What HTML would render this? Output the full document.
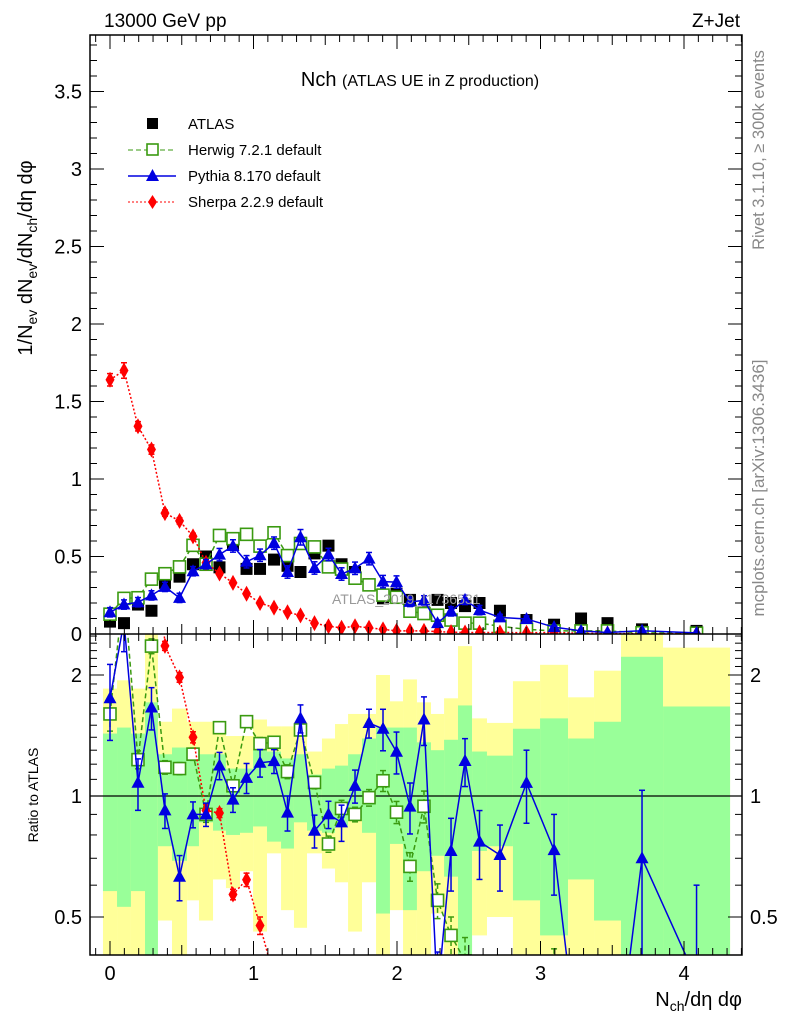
<!DOCTYPE html>
<html><head><meta charset="utf-8">
<style>
html,body{margin:0;padding:0;background:#fff;width:786px;height:1024px;overflow:hidden;}
svg{display:block;font-family:"Liberation Sans",sans-serif;}
</style></head>
<body>
<svg id="chart" width="786" height="1024" viewBox="0 0 786 1024" xmlns="http://www.w3.org/2000/svg">
<defs>
<clipPath id="clipMain"><rect x="90" y="35" width="652" height="599"/></clipPath>
<clipPath id="clipRatio"><rect x="90" y="634" width="652" height="321"/></clipPath>
</defs>
<g id="bands" clip-path="url(#clipRatio)"></g>
<g id="ratioLines" clip-path="url(#clipRatio)"></g>
<g id="mainMarks" clip-path="url(#clipMain)"></g>
<text x="332" y="604" font-size="14" fill="#999">ATLAS_2019_I1736531</text>
<g id="axes"></g>
<text x="104" y="27" font-size="19">13000 GeV pp</text>
<text x="740" y="27" font-size="19" text-anchor="end">Z+Jet</text>
<text x="420" y="86" font-size="20" text-anchor="middle">Nch <tspan font-size="16">(ATLAS UE in Z production)</tspan></text>
<g font-size="15">
 <g><rect x="147" y="118" width="11" height="11" fill="#000"/><text x="188" y="129">ATLAS</text></g>
 <g><line x1="128" y1="150" x2="176" y2="150" stroke="#3a9a10" stroke-dasharray="5,3"/><rect x="147" y="144" width="11" height="11" fill="#fff" stroke="#3a9a10" stroke-width="1.6"/><text x="188" y="155">Herwig 7.2.1 default</text></g>
 <g><line x1="128" y1="176" x2="176" y2="176" stroke="#0000e0" stroke-width="1.5"/><polygon points="146,181 159,181 152.5,169" fill="#0000e0"/><text x="188" y="181">Pythia 8.170 default</text></g>
 <g><line x1="128" y1="202" x2="176" y2="202" stroke="#f00" stroke-dasharray="2,2"/><polygon points="152.5,195 157,202 152.5,209 148,202" fill="#f00"/><text x="188" y="207">Sherpa 2.2.9 default</text></g>
</g>
<text transform="translate(32,258) rotate(-90)" font-size="20" text-anchor="middle">1/N<tspan font-size="14" dy="5">ev</tspan><tspan dy="-5"> dN</tspan><tspan font-size="14" dy="5">ev</tspan><tspan dy="-5">/dN</tspan><tspan font-size="14" dy="5">ch</tspan><tspan dy="-5">/dη dφ</tspan></text>
<text transform="translate(38,795) rotate(-90)" font-size="14" text-anchor="middle">Ratio to ATLAS</text>
<text x="742" y="1006" font-size="20" text-anchor="end">N<tspan font-size="14" dy="5">ch</tspan><tspan dy="-5">/dη dφ</tspan></text>
<text transform="translate(764,150) rotate(-90)" font-size="16.5" fill="#888" text-anchor="middle">Rivet 3.1.10, ≥ 300k events</text>
<text transform="translate(764,488) rotate(-90)" font-size="17" fill="#888" text-anchor="middle">mcplots.cern.ch [arXiv:1306.3436]</text>
</svg>
<script>
const binEdges=[-0.049,0.049,0.146,0.244,0.334,0.432,0.537,0.620,0.718,0.808,0.906,0.997,1.094,1.192,1.282,1.373,1.477,1.568,1.659,1.756,1.854,1.951,2.042,2.139,2.237,2.328,2.425,2.523,2.627,2.808,2.997,3.192,3.373,3.561,3.854,4.321];
const atlasVals=[.08,.07,.19,.15,.33,.37,.45,.50,.43,.58,.42,.42,.48,.44,.40,.52,.57,.45,.40,.32,.23,.26,.22,.14,.22,.20,.18,.20,.15,.09,.06,.10,.07,.03,.02];
const herwigVals=[.128,.23,.234,.354,.389,.433,.572,.45,.636,.615,.643,.567,.653,.506,.584,.562,.433,.419,.36,.317,.251,.237,.147,.132,.121,.09,.07,.07,.05,.03,.02,.02,.02,.008,.005];
const pythiaVals=[.14,.19,.205,.249,.304,.233,.405,.45,.512,.568,.466,.508,.586,.40,.624,.426,.513,.387,.424,.486,.338,.335,.207,.217,.07,.146,.22,.154,.107,.097,.044,.02,.01,.021,.007];
const sherpaVals=[1.64,1.70,1.34,1.19,0.78,0.73,0.63,0.46,0.39,0.33,0.26,0.20,0.17,0.14,0.12,0.07,0.05,0.04,0.05,0.04,0.03,0.02,0.02,0.02,0.015,0.012,0.01,0.01,0.01,0.008,0.01,0.005,0.003,0.002,0.001];
const pythiaErr=[.03,.03,.03,.03,.03,.03,.03,.03,.04,.04,.04,.04,.04,.04,.05,.04,.04,.04,.04,.04,.04,.04,.03,.03,.02,.03,.03,.03,.02,.02,.01,.01,.01,.01,.005];
const herwigErr=[.012,.012,.012,.015,.015,.015,.02,.02,.02,.02,.02,.02,.02,.02,.02,.02,.02,.02,.015,.015,.015,.015,.012,.012,.012,.01,.01,.01,.008,.006,.005,.005,.005,.003,.002];
const sherpaErr=[.04,.05,.03,.03,.02,.02,.02,.015,.01,.01,.01,.01,.01,.01,.01,.005,.005,.005,.005,.005,.005,.005,.005,.005,.005,.005,.005,.005,.005,.005,.005,.005,.005,.005,.005];
const greenTop=[1.43,1.48,1.43,1.71,1.27,1.32,1.31,1.27,1.27,1.17,1.17,1.31,1.29,1.24,1.27,1.13,1.17,1.19,1.27,1.39,1.48,1.48,1.48,1.36,1.30,1.38,1.68,1.29,1.26,1.47,1.56,1.39,1.53,2.22,1.67];
const greenBot=[0.58,0.53,0.58,0.3,0.75,0.69,0.75,0.86,0.82,0.80,0.81,0.84,0.77,0.74,0.86,0.82,0.81,0.84,0.88,0.81,0.51,0.76,0.52,0.65,0.71,0.63,0.3,0.73,0.75,0.55,0.45,0.62,0.49,0.3,0.3];
const yellowTop=[1.85,1.94,1.85,3,1.53,1.65,1.53,1.53,1.53,1.41,1.41,1.55,1.49,1.49,1.53,1.29,1.39,1.51,1.60,1.60,2.0,1.72,1.95,1.71,1.60,1.75,2.36,1.56,1.52,1.93,2.12,1.76,2.05,3,2.34];
const yellowBot=[0.3,0.3,0.3,0.3,0.49,0.3,0.55,0.49,0.62,0.59,0.65,0.46,0.72,0.52,0.47,0.72,0.66,0.61,0.46,0.61,0.3,0.52,0.3,0.3,0.51,0.3,0.3,0.45,0.50,0.3,0.3,0.3,0.3,0.3,0.3];
const xTicks=[0,1,2,3,4];
const yTicks=[0,0.5,1,1.5,2,2.5,3,3.5];
const yTickLabels=["0","0.5","1","1.5","2","2.5","3","3.5"];
const rTicks=[0.5,1,2];
const rTickLabels=["0.5","1","2"];

const NS="http://www.w3.org/2000/svg";
const L=90,R=742,T=35,MB=634,RB=955;
function X(v){return 110+v*143.5;}
function Y(v){return 634-v*155;}
function RY(r){return 796-Math.log2(r)*121;}
function mk(tag,attrs,parent){const e=document.createElementNS(NS,tag);for(const k in attrs)e.setAttribute(k,attrs[k]);parent.appendChild(e);return e;}
const centers=binEdges.slice(0,-1).map((e,i)=>(e+binEdges[i+1])/2);

const gb=document.getElementById('bands');
for(let i=0;i<centers.length;i++){
  const x1=X(binEdges[i]),x2=X(binEdges[i+1]);
  const yb=mk('rect',{x:x1,y:RY(yellowTop[i]),width:x2-x1,height:RY(yellowBot[i])-RY(yellowTop[i]),fill:'#ffff99'},gb);
  
  
  const gr=mk('rect',{x:x1,y:RY(greenTop[i]),width:x2-x1,height:RY(greenBot[i])-RY(greenTop[i]),fill:'#99ff99'},gb);
  
  
}
mk('line',{x1:L,x2:R,y1:RY(1),y2:RY(1),stroke:'#000','stroke-width':1.2},gb);

function drawSeries(g,vals,errs,yfun,color,dash,marker,name,ratio){
  const pts=[];
  for(let i=0;i<vals.length;i++){
    let v=vals[i],e=errs?errs[i]:0;
    if(ratio){v=vals[i]/atlasVals[i];e=e/atlasVals[i];}
    pts.push([X(centers[i]),yfun(Math.max(v,1e-4)),v,e]);
  }
  const pl=mk('polyline',{points:pts.map(p=>p[0]+','+p[1]).join(' '),fill:'none',stroke:color,'stroke-width':1.5,'stroke-dasharray':dash},g);
  
  
  pts.forEach(p=>{
    const [x,y,v,e]=p;
    if(e>0){
      const y1=yfun(Math.max(v+e,1e-4)),y2=yfun(Math.max(v-e,1e-4));
      mk('line',{x1:x,x2:x,y1:y1,y2:y2,stroke:color,'stroke-width':1.5,'stroke-dasharray':dash},g);
      mk('line',{x1:x-3,x2:x+3,y1:y1,y2:y1,stroke:color,'stroke-width':1.5},g);
      mk('line',{x1:x-3,x2:x+3,y1:y2,y2:y2,stroke:color,'stroke-width':1.5},g);
    }
    let m;
    if(marker==='square') m=mk('rect',{x:x-6,y:y-6,width:12,height:12,fill:'#fff',stroke:color,'stroke-width':1.6},g);
    else if(marker==='tri') m=mk('polygon',{points:`${x-6.5},${y+5} ${x+6.5},${y+5} ${x},${y-7}`,fill:color},g);
    else m=mk('polygon',{points:`${x},${y-8} ${x+4.5},${y} ${x},${y+8} ${x-4.5},${y}`,fill:color},g);
    
    
  });
}
const gm=document.getElementById('mainMarks');
atlasVals.forEach((v,i)=>{
  const r=mk('rect',{x:X(centers[i])-6,y:Y(v)-6,width:12,height:12,fill:'#000'},gm);
  
  
});
drawSeries(gm,herwigVals,herwigErr,Y,'#3a9a10','5,3','square','herwig',false);
drawSeries(gm,sherpaVals,sherpaErr,Y,'#f00','2,2','diamond','sherpa',false);
drawSeries(gm,pythiaVals,pythiaErr,Y,'#0000e0','','tri','pythia',false);
const gr=document.getElementById('ratioLines');
drawSeries(gr,herwigVals,herwigErr,RY,'#3a9a10','5,3','square','herwig-ratio',true);
drawSeries(gr,sherpaVals,sherpaErr,RY,'#f00','2,2','diamond','sherpa-ratio',true);
drawSeries(gr,pythiaVals,pythiaErr,RY,'#0000e0','','tri','pythia-ratio',true);

const ga=document.getElementById('axes');
mk('rect',{x:L,y:T,width:R-L,height:RB-T,fill:'none',stroke:'#000','stroke-width':1.5},ga);
mk('line',{x1:L,x2:R,y1:MB,y2:MB,stroke:'#000','stroke-width':1.5},ga);
for(let k=-1;k<=45;k++){
  const v=k/10,x=X(v);if(x<L||x>R)continue;
  const len=(k%10===0)?14:(k%5===0?10:7);
  [[MB,-1],[T,1],[RB,-1],[MB,1]].forEach(([y0,d])=>mk('line',{x1:x,x2:x,y1:y0,y2:y0+d*len,stroke:'#000'},ga));
}
xTicks.forEach(v=>{const t=mk('text',{x:X(v),y:980,'font-size':20,'text-anchor':'middle'},ga);t.textContent=v;

});
for(let k=0;k<=38;k++){
  const v=k/10,y=Y(v);if(y<T)continue;
  const len=(k%5===0)?14:7;
  mk('line',{x1:L,x2:L+len,y1:y,y2:y,stroke:'#000'},ga);
  mk('line',{x1:R,x2:R-len,y1:y,y2:y,stroke:'#000'},ga);
}
yTicks.forEach((v,i)=>{const t=mk('text',{x:82,y:Y(v)+7,'font-size':20,'text-anchor':'end'},ga);t.textContent=yTickLabels[i];

});
for(let k=4;k<=25;k++){
  const v=k/10,y=RY(v);if(y<MB||y>RB)continue;
  const len=(k===5||k===10||k===20)?14:7;
  mk('line',{x1:L,x2:L+len,y1:y,y2:y,stroke:'#000'},ga);
  mk('line',{x1:R,x2:R-len,y1:y,y2:y,stroke:'#000'},ga);
}
rTicks.forEach((v,i)=>{
  const t=mk('text',{x:82,y:RY(v)+7,'font-size':20,'text-anchor':'end'},ga);t.textContent=rTickLabels[i];
  
  
  const t2=mk('text',{x:750,y:RY(v)+7,'font-size':20,'text-anchor':'start'},ga);t2.textContent=rTickLabels[i];
  
  
});
</script>
</body></html>
